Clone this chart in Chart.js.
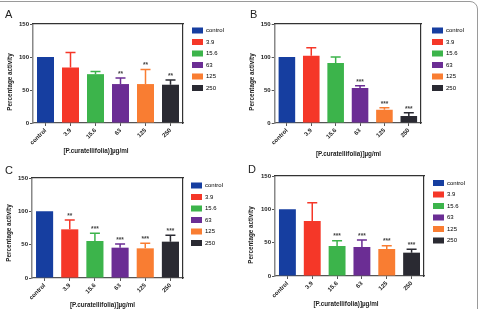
<!DOCTYPE html>
<html>
<head>
<meta charset="utf-8">
<script src="https://cdn.jsdelivr.net/npm/chart.js@4.4.1/dist/chart.umd.min.js"></script>
<style>
  html, body { margin: 0; padding: 0; background: #fff; }
  body { width: 478px; height: 309px; position: relative; overflow: hidden; font-family: 'Liberation Sans', Arial, sans-serif; }
  .frame { position: absolute; left: -20px; top: 1px; width: 498px; height: 400px; box-sizing: border-box; border: 1px solid #9a9a9a; border-radius: 8px; }
  canvas { position: absolute; }
  .letter { position: absolute; font-size: 11px; line-height: 11px; color: #222; }
  .xt, .yt { position: absolute; font-size: 6.3px; font-weight: bold; color: #222; white-space: nowrap; line-height: 1; }
  .xt { transform: translate(-50%, -50%); }
  .yt { transform: translate(-50%, -50%) rotate(-90deg); }
</style>
</head>
<body>
<div class="frame"></div>

<canvas id="chartA" width="239" height="155" style="left:0;top:0"></canvas>
<canvas id="chartB" width="239" height="155" style="left:239px;top:0"></canvas>
<canvas id="chartC" width="239" height="155" style="left:0;top:155px"></canvas>
<canvas id="chartD" width="239" height="154" style="left:239px;top:155px"></canvas>

<div class="letter" style="left:5px;top:8.6px">A</div>
<div class="letter" style="left:250px;top:8.6px">B</div>
<div class="letter" style="left:5px;top:164.6px">C</div>
<div class="letter" style="left:248px;top:163.6px">D</div>

<div class="yt" style="left:10.3px;top:81.7px">Percentage activity</div>
<div class="yt" style="left:251.5px;top:81.5px">Percentage activity</div>
<div class="yt" style="left:9px;top:233px">Percentage activity</div>
<div class="yt" style="left:251.3px;top:235px">Percentage activity</div>

<div class="xt" style="left:96px;top:150.5px">[P.curatellifolia)]µg/ml</div>
<div class="xt" style="left:348.5px;top:154px">[P.curatellifolia)]µg/ml</div>
<div class="xt" style="left:102.5px;top:305px">[P.curatellifolia)]µg/ml</div>
<div class="xt" style="left:346px;top:304px">[P.curatellifolia)]µg/ml</div>

<script>
const categories = ['control', '3.9', '15.6', '63', '125', '250'];
const yTicks = [0, 50, 100, 150];

const activityA = [100, 84, 74, 59, 59, 58];
const errorA = [0, 23, 4, 9, 22, 7];
const starsA = ['', '', '', '**', '**', '**'];

const activityB = [100, 102, 91, 53, 20, 10.5];
const errorB = [0, 12, 9, 3.5, 3, 5];
const starsB = ['', '', '', '***', '***', '***'];

const activityC = [100, 73, 55.5, 45.5, 44.5, 54.5];
const errorC = [0, 14, 11.5, 5.5, 7.5, 9.5];
const starsC = ['', '**', '***', '***', '***', '***'];

const activityD = [100, 82.5, 45, 43.5, 40.5, 35];
const errorD = [0, 27.5, 8, 10.5, 5, 5];
const starsD = ['', '', '***', '***', '***', '***'];

const barColors = ['#163ea0', '#f53728', '#3cb44b', '#6b2d94', '#f97d32', '#2a2a32'];

Chart.defaults.font.family = "'Liberation Sans', Arial, sans-serif";

// error bars (upper only) + significance stars
const errorBars = {
  id: 'errorBars',
  afterDatasetsDraw(chart) {
    const ctx = chart.ctx;
    const y = chart.scales.y;
    const ds = chart.data.datasets[0];
    chart.getDatasetMeta(0).data.forEach((bar, i) => {
      const top = y.getPixelForValue(ds.data[i] + ds.errors[i]);
      ctx.save();
      if (ds.errors[i] > 0) {
        ctx.strokeStyle = barColors[i];
        ctx.lineWidth = 1.5;
        ctx.beginPath();
        ctx.moveTo(bar.x, bar.y);
        ctx.lineTo(bar.x, top);
        ctx.moveTo(bar.x - 5, top);
        ctx.lineTo(bar.x + 5, top);
        ctx.stroke();
      }
      if (ds.stars[i]) {
        ctx.fillStyle = '#444';
        ctx.font = "bold 6.5px 'Liberation Sans', Arial";
        ctx.textAlign = 'center';
        ctx.textBaseline = 'middle';
        ctx.fillText(ds.stars[i], bar.x, top - 4);
      }
      ctx.restore();
    });
  }
};

function makePanel(id, values, errors, stars, L) {
  const tickFont = { size: 6, weight: 'bold' };
  return new Chart(document.getElementById(id), {
    type: 'bar',
    data: {
      labels: categories,
      datasets: [{
        data: values,
        errors: errors,
        stars: stars,
        backgroundColor: barColors,
        borderWidth: 0,
        barPercentage: 0.68,
        categoryPercentage: 1
      }]
    },
    options: {
      responsive: false,
      animation: false,
      events: [],
      layout: { padding: { left: 0, right: L.padR, top: L.padT, bottom: 0 } },
      plugins: {
        tooltip: { enabled: false },
        legend: {
          position: 'right',
          align: 'start',
          maxWidth: 40,
          labels: {
            boxWidth: 11,
            boxHeight: 6,
            padding: 5.5,
            color: '#555',
            font: { size: 6 },
            generateLabels: () => categories.map((c, i) => ({
              text: c, fillStyle: barColors[i], strokeStyle: barColors[i], lineWidth: 0, hidden: false, index: i
            }))
          }
        }
      },
      scales: {
        x: {
          offset: true,
          grid: { drawOnChartArea: false, offset: false, tickLength: 3, color: '#555' },
          border: { color: '#555', width: 1.2 },
          ticks: { font: tickFont, color: '#222', minRotation: 45, maxRotation: 45, padding: 1, autoSkip: false },
          afterFit: s => { s.height = L.xH; }
        },
        y: {
          min: 0,
          max: 150,
          afterBuildTicks: s => { s.ticks = yTicks.map(v => ({ value: v })); },
          grid: { drawOnChartArea: false, tickLength: 3, color: '#555' },
          border: { color: '#888', width: 1.5 },
          ticks: { font: tickFont, color: '#222', padding: 1 },
          afterFit: s => { s.width = L.yW; }
        },
        x2: {
          type: 'category',
          position: 'top',
          offset: true,
          grid: { display: false },
          ticks: { display: false },
          border: { color: '#333', width: 1.2 },
          afterFit: s => { s.height = L.x2H; }
        },
        y2: {
          position: 'right',
          min: 0,
          max: 150,
          grid: { display: false },
          ticks: { display: false },
          border: { color: '#333', width: 1.2 },
          afterFit: s => { s.width = L.y2W; }
        }
      }
    },
    plugins: [errorBars]
  });
}

makePanel('chartA', activityA, errorA, starsA, { padR: 12.5, padT: 22, yW: 33, xH: 32, x2H: 2, y2W: 3.5 });
makePanel('chartB', activityB, errorB, starsB, { padR: 11.5, padT: 22, yW: 35.7, xH: 32, x2H: 2, y2W: 5.5 });
makePanel('chartC', activityC, errorC, starsC, { padR: 13.5, padT: 22, yW: 32, xH: 32, x2H: 1, y2W: 2.5 });
makePanel('chartD', activityD, errorD, starsD, { padR: 10.5, padT: 19.5, yW: 36, xH: 33, x2H: 1.5, y2W: 3.5 });
</script>
</body>
</html>
